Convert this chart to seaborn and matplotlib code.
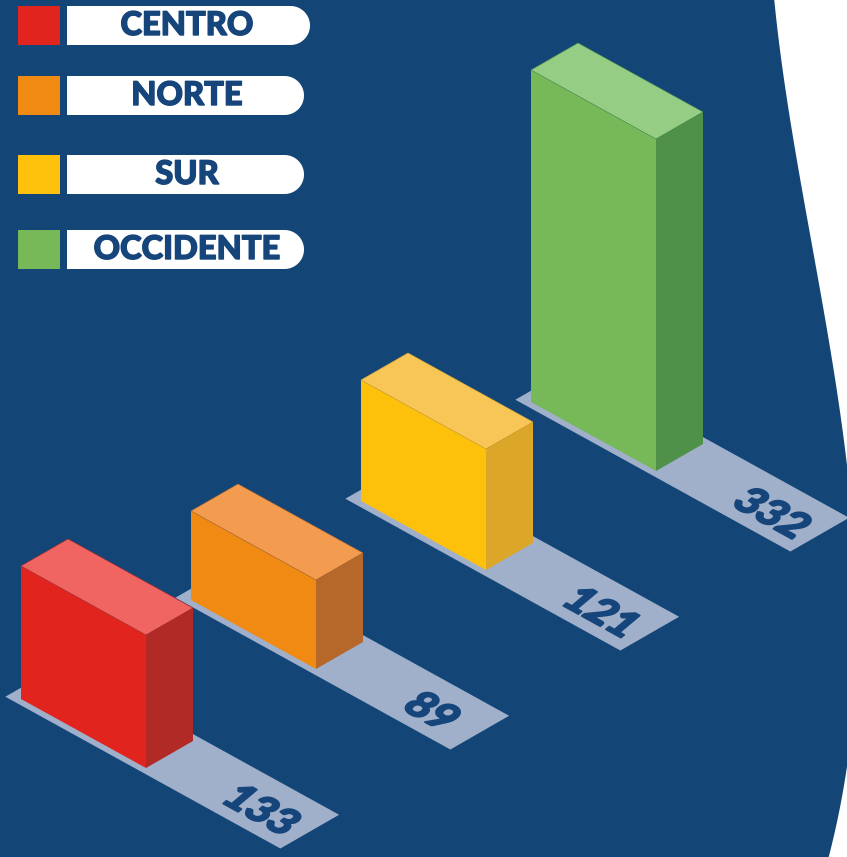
import numpy as np
import pandas as pd
import matplotlib
matplotlib.use("Agg")
import matplotlib.pyplot as plt
import seaborn as sns
import matplotlib.patheffects as pe
from matplotlib.transforms import Affine2D
from matplotlib.patches import Polygon, PathPatch, Rectangle
from matplotlib.textpath import TextPath
from matplotlib.font_manager import FontProperties

# ---------------- data ----------------
categories = ["CENTRO", "NORTE", "SUR", "OCCIDENTE"]
values = [133, 89, 121, 332]
value_labels = ["133", "89", "121", "332"]

front_colors = ["#E1251E", "#F08A12", "#FDC10C", "#77B858"]
top_colors = ["#F06462", "#F39B4F", "#F8C557", "#95CD85"]
side_colors = ["#B22A25", "#B56829", "#DCA628", "#4F9149"]

BG = "#134676"
STRIP = "#A0B0CB"
NAVY = "#15457A"

sns.set_theme(style="white")
plt.rcParams["font.family"] = ["Lato", "DejaVu Sans"]

fig = plt.figure(figsize=(8.47, 8.57), dpi=100)
fig.patch.set_facecolor(BG)
ax = fig.add_axes([0, 0, 1, 1])
ax.set_facecolor(BG)

df = pd.DataFrame({"region": categories, "value": values})
sns.barplot(data=df, x="region", y="value", hue="region", palette=front_colors,
            saturation=1, width=0.8, legend=False, ax=ax, linewidth=0)

# ---------------- isometric projection (pixel space) ----------------
W = np.array([125.0, 69.0])    # front-face width direction
D = np.array([47.0, -27.0])    # depth direction
B0 = np.array([21.0, 699.0])   # base of first bar
STEP = np.array([170.0, -99.0])
K = 1.0                         # pixels per unit of value

Wn = W / np.linalg.norm(W)
UP = np.array([np.cos(np.radians(40)), -np.sin(np.radians(40))])
fp_num = FontProperties(family="Lato", weight="black")
EM = 42.0

bars = sorted(ax.patches, key=lambda p: p.get_x())
for i, p in enumerate(bars):
    x0, w, h = p.get_x(), p.get_width(), p.get_height()
    base = B0 + i * STEP
    a, c = W[0] / w, W[1] / w
    T = Affine2D(np.array([[a, 0.0, base[0] - a * x0],
                           [c, -K, base[1] - c * x0],
                           [0.0, 0.0, 1.0]]))
    p.set_transform(T + ax.transData)
    z = 50 - 10 * i
    p.set_zorder(z + 2)
    p.set_edgecolor("none")

    fl_b = np.array(T.transform((x0, 0)))
    fr_b = np.array(T.transform((x0 + w, 0)))
    fl_t = np.array(T.transform((x0, h)))
    fr_t = np.array(T.transform((x0 + w, h)))

    ax.add_patch(Polygon([fl_t, fr_t, fr_t + D, fl_t + D], closed=True,
                         fc=top_colors[i], ec=side_colors[i], lw=0.4, zorder=z + 3))
    ax.add_patch(Polygon([fr_b, fr_t, fr_t + D, fr_b + D], closed=True,
                         fc=side_colors[i], ec="none", zorder=z + 3))

    # floor strip with value
    s0 = fl_b - 0.08 * W - 0.12 * D
    ax.add_patch(Polygon([s0, s0 + 2.2 * W, s0 + 2.2 * W + 1.25 * D, s0 + 1.25 * D],
                         closed=True, fc=STRIP, ec="none", zorder=z))
    tp = TextPath((0, 0), value_labels[i], size=1, prop=fp_num)
    ext = tp.get_extents()
    cx, cy = (ext.x0 + ext.x1) / 2, (ext.y0 + ext.y1) / 2
    ctr = fl_b + 1.77 * W + 0.44 * D
    tt = Affine2D().translate(-cx, -cy) + Affine2D(np.array([
        [Wn[0] * EM, UP[0] * EM, ctr[0]],
        [Wn[1] * EM, UP[1] * EM, ctr[1]],
        [0, 0, 1]]))
    ax.add_patch(PathPatch(tp, transform=tt + ax.transData, fc=NAVY, ec=NAVY,
                           lw=1.3, joinstyle="round", zorder=z + 1))

# ---------------- white curved area on the right ----------------
cy_pts = np.array([0, 100, 200, 300, 400, 470, 767, 810, 857], float)
cx_pts = np.array([774, 788, 803, 822, 838, 848, 847, 839, 829], float)
coef = np.polyfit(cy_pts, cx_pts, 4)
yy = np.linspace(-5, 862, 200)
xx = np.polyval(coef, yy)
poly = np.column_stack([np.r_[xx, 900, 900], np.r_[yy, 862, -5]])
ax.add_patch(Polygon(poly, closed=True, fc="white", ec="none", zorder=1))

# ---------------- legend ----------------
leg_tops = [6, 76, 155, 230]
pill_right = [310, 304, 304, 304]
SQ = 39
for i, cat in enumerate(categories):
    y0 = leg_tops[i]
    y1 = y0 + SQ
    ax.add_patch(Rectangle((18, y0), 42, SQ, fc=front_colors[i], ec="none", zorder=60))
    r = SQ / 2
    xr = pill_right[i] - r
    t = np.linspace(-np.pi / 2, np.pi / 2, 40)
    pts = [(67, y0), (xr, y0)] + [(xr + r * np.cos(a_), y0 + r + r * np.sin(a_)) for a_ in t] + [(67, y1)]
    ax.add_patch(Polygon(pts, closed=True, fc="white", ec="none", zorder=60))
    ax.text(187, y0 + r, cat, ha="center", va="center", fontsize=23.5,
            fontweight="black", color=NAVY, zorder=61,
            path_effects=[pe.withStroke(linewidth=1.0, foreground=NAVY)])

ax.set_xlim(0, 847)
ax.set_ylim(857, 0)
ax.set_axis_off()
fig.savefig("out.png", dpi=100, facecolor=BG)
